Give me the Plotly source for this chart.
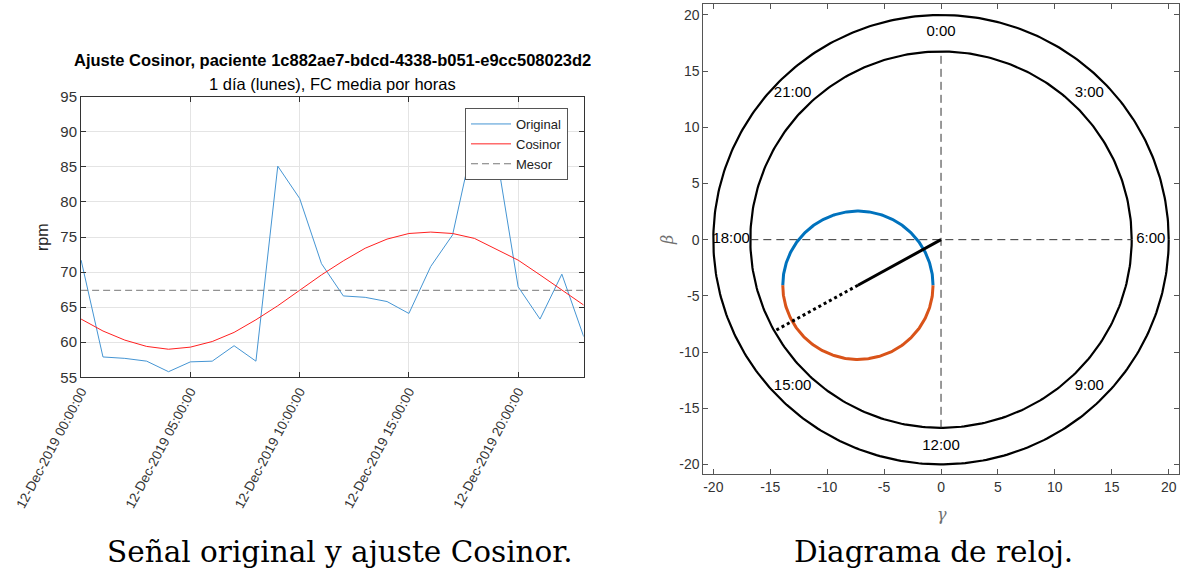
import numpy as np
import plotly.graph_objects as go

# ---------------- data: left chart ----------------
hours = [f"2019-12-12 {h:02d}:00:00" for h in range(24)]
original = [71.7, 57.9, 57.7, 57.3, 55.8, 57.2, 57.3, 59.5, 57.3, 85.1, 80.5, 71.2,
            66.6, 66.4, 65.8, 64.1, 70.8, 75.3, 89.5, 87.0, 67.9, 63.3, 69.7, 60.8]
cosinor = [63.3, 61.6, 60.3, 59.4, 59.0, 59.3, 60.1, 61.4, 63.2, 65.2, 67.4, 69.6,
           71.6, 73.4, 74.7, 75.5, 75.7, 75.5, 74.8, 73.3, 71.7, 69.6, 67.4, 65.3]
mesor = 67.4
xtick_vals = ["2019-12-12 00:00:00", "2019-12-12 05:00:00", "2019-12-12 10:00:00",
              "2019-12-12 15:00:00", "2019-12-12 20:00:00"]
xtick_text = ["12-Dec-2019 00:00:00", "12-Dec-2019 05:00:00", "12-Dec-2019 10:00:00",
              "12-Dec-2019 15:00:00", "12-Dec-2019 20:00:00"]
ytick_vals = [55, 60, 65, 70, 75, 80, 85, 90, 95]

# ---------------- data: right chart (clock diagram) ----------------
outer_radius = 20.0
inner_radius = 16.75
center_gamma = -7.3
center_beta = -4.06
ci_radius = 6.6
label_radius = 18.43
clock_hours = [0, 3, 6, 9, 12, 15, 18, 21]
clock_labels = ["0:00", "3:00", "6:00", "9:00", "12:00", "15:00", "18:00", "21:00"]
clock_ticks = [-20, -15, -10, -5, 0, 5, 10, 15, 20]
clock_ticktext = ["-20", "-15", "-10", "-5", "0", "5", "10", "15", "20"]

W, H = 1193, 574
def px(x): return x / W
def py(y): return 1 - y / H

fig = go.Figure()

BLUE = "#0072BD"
ORANGE = "#D95319"
AX = "#333333"

# left chart traces
fig.add_trace(go.Scatter(x=hours, y=original, mode="lines", name="Original",
                         line=dict(color="#4595d3", width=1), xaxis="x", yaxis="y"))
fig.add_trace(go.Scatter(x=hours, y=cosinor, mode="lines", name="Cosinor",
                         line=dict(color="#ff2020", width=1), xaxis="x", yaxis="y"))
fig.add_trace(go.Scatter(x=[hours[0], hours[-1]], y=[mesor, mesor], mode="lines", name="Mesor",
                         line=dict(color="#777777", width=1, dash="7px,4px"), xaxis="x", yaxis="y"))

# right chart
t = np.linspace(0, 2 * np.pi, 400)
for r in (outer_radius, inner_radius):
    fig.add_trace(go.Scatter(x=r * np.cos(t), y=r * np.sin(t), mode="lines", showlegend=False,
                             line=dict(color="black", width=2.2), xaxis="x2", yaxis="y2",
                             hoverinfo="skip"))
# dashed axes through origin
fig.add_trace(go.Scatter(x=[0, 0], y=[-inner_radius, inner_radius], mode="lines", showlegend=False,
                         line=dict(color="#333333", width=1, dash="8px,5px"), xaxis="x2", yaxis="y2"))
fig.add_trace(go.Scatter(x=[-inner_radius, inner_radius], y=[0, 0], mode="lines", showlegend=False,
                         line=dict(color="#333333", width=1, dash="8px,5px"), xaxis="x2", yaxis="y2"))
# confidence circle: upper half blue, lower half orange
tu = np.linspace(0, np.pi, 200)
fig.add_trace(go.Scatter(x=center_gamma + ci_radius * np.cos(tu), y=center_beta + ci_radius * np.sin(tu),
                         mode="lines", showlegend=False, line=dict(color=BLUE, width=3),
                         xaxis="x2", yaxis="y2"))
fig.add_trace(go.Scatter(x=center_gamma + ci_radius * np.cos(tu), y=center_beta - ci_radius * np.sin(tu),
                         mode="lines", showlegend=False, line=dict(color=ORANGE, width=3),
                         xaxis="x2", yaxis="y2"))
# amplitude vector and dotted extension to inner circle
norm = np.hypot(center_gamma, center_beta)
ex, ey = inner_radius * center_gamma / norm, inner_radius * center_beta / norm
fig.add_trace(go.Scatter(x=[0, center_gamma], y=[0, center_beta], mode="lines", showlegend=False,
                         line=dict(color="black", width=3), xaxis="x2", yaxis="y2"))
fig.add_trace(go.Scatter(x=[center_gamma, ex], y=[center_beta, ey], mode="lines", showlegend=False,
                         line=dict(color="black", width=3, dash="dot"), xaxis="x2", yaxis="y2"))
# hour labels
ang = [np.pi / 2 - h / 24 * 2 * np.pi for h in clock_hours]
fig.add_trace(go.Scatter(x=[label_radius * np.cos(a) for a in ang],
                         y=[label_radius * np.sin(a) for a in ang],
                         mode="text", text=clock_labels, showlegend=False,
                         textfont=dict(family="Liberation Sans, Arial", size=15, color="black"),
                         xaxis="x2", yaxis="y2"))

font_l = dict(family="Liberation Sans, Arial, sans-serif", size=15, color=AX)
font_x = dict(family="Liberation Sans, Arial, sans-serif", size=13.5, color=AX)
font_r = dict(family="Liberation Sans, Arial, sans-serif", size=14, color=AX)

fig.update_layout(
    width=W, height=H, margin=dict(l=0, r=0, t=0, b=0, autoexpand=False),
    paper_bgcolor="white", plot_bgcolor="white",
    font=font_l,
    showlegend=True,
    legend=dict(x=px(465), y=py(108), xanchor="left", yanchor="top",
                bgcolor="white", bordercolor="#555555", borderwidth=1,
                font=dict(family="Liberation Sans, Arial", size=13, color="#222222"),
                tracegroupgap=0, itemwidth=40),
    xaxis=dict(domain=[px(81), px(583.7)], type="date",
               range=["2019-12-11 23:59:40", "2019-12-12 23:00:00"],
               tickvals=xtick_vals, ticktext=xtick_text, tickangle=-62,
               ticklabeloverflow="allow", automargin=False,
               showgrid=True, gridcolor="#e4e4e4", gridwidth=1,
               showline=True, linecolor="#333333", linewidth=1, mirror="allticks",
               ticks="inside", ticklen=5, tickcolor="#333333", anchor="y",
               zeroline=False, tickfont=font_x),
    yaxis=dict(domain=[py(377.3), py(96.7)], range=[55, 95], tickvals=ytick_vals,
               automargin=False,
               showgrid=True, gridcolor="#e4e4e4", gridwidth=1,
               showline=True, linecolor="#333333", linewidth=1, mirror="allticks",
               ticks="inside", ticklen=5, tickcolor="#333333", anchor="x",
               zeroline=False, tickfont=font_l),
    xaxis2=dict(domain=[px(703.3), px(1179.3)], range=[-20.88, 20.93], tickvals=clock_ticks,
                ticktext=clock_ticktext, automargin=False,
                showgrid=False, zeroline=False,
                showline=True, linecolor="#555555", linewidth=1, mirror="allticks",
                ticks="inside", ticklen=5, tickcolor="#555555", anchor="y2", tickfont=font_r),
    yaxis2=dict(domain=[py(474), py(4.3)], range=[-20.86, 20.95], tickvals=clock_ticks,
                ticktext=clock_ticktext, automargin=False,
                showgrid=False, zeroline=False,
                showline=True, linecolor="#555555", linewidth=1, mirror="allticks",
                ticks="inside", ticklen=5, tickcolor="#555555", anchor="x2", tickfont=font_r),
)

def A(text, x, y, size, family="Liberation Sans, Arial", color="black", angle=0):
    return dict(text=text, x=px(x), y=py(y), xref="paper", yref="paper", showarrow=False,
                xanchor="center", yanchor="middle", textangle=angle,
                font=dict(family=family, size=size, color=color))

ann = [
    A("<b>Ajuste Cosinor, paciente 1c882ae7-bdcd-4338-b051-e9cc508023d2</b>", 332, 60, 16.5),
    A("1 día (lunes), FC media por horas", 332, 84, 16.5),
    A("rpm", 42, 237, 16, color="#262626", angle=-90),
    A("<i>β</i>", 667, 240, 16, family="DejaVu Serif, serif", color="#707070", angle=-90),
    A("<i>γ</i>", 942, 514, 16, family="DejaVu Serif, serif", color="#707070"),
    A("Señal original y ajuste Cosinor.", 340, 552, 29.5, family="DejaVu Serif, serif"),
    A("Diagrama de reloj.", 933, 552, 29.5, family="DejaVu Serif, serif"),
]
fig.update_layout(annotations=ann)

fig.write_html("out.html")
